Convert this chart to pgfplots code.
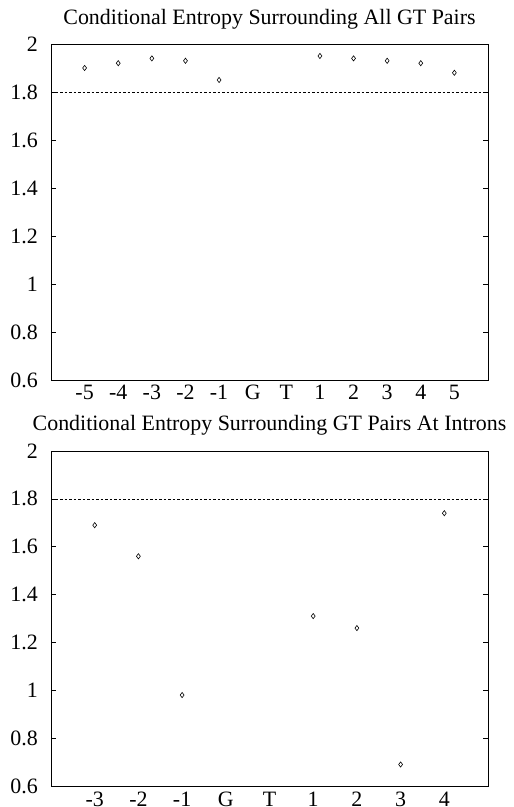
\documentclass[border=0pt]{standalone}
\usepackage{fontspec}
\setmainfont{Liberation Serif}
\usepackage{pgfplots}
\pgfplotsset{compat=1.18}
\begin{document}
\fontsize{22}{25}\selectfont
\begin{tikzpicture}
\useasboundingbox (0,0) rectangle (514bp,807bp);
\pgfplotsset{
  gtstyle/.style={
    scale only axis,
    width=437bp,
    ymin=0.6, ymax=2,
    ytick={0.6,0.8,1,1.2,1.4,1.6,1.8,2},
    yticklabels={0.6,0.8,1,1.2,1.4,1.6,1.8,2},
    xtick=data,
    tick align=inside,
    ytick pos=both,
    major tick length=5bp,
    x tick style={draw=none},
    y tick style={black, line width=0.6bp},
    axis line style={black, line width=0.8bp},
    yticklabel style={anchor=east, inner sep=0pt, xshift=-13bp},
    xticklabel style={anchor=base, inner sep=0pt, yshift=-20bp},
    /pgf/number format/assume math mode=true,
    every axis plot/.append style={black},
  },
  markstyle/.style={only marks, mark=diamond, mark size=2.6bp, mark options={line width=0.6bp, fill=none}},
}
\begin{axis}[gtstyle,
  at={(51bp,427bp)}, anchor=south west,
  height=336bp,
  xmin=-1, xmax=12,
  xtick={0,1,2,3,4,5,6,7,8,9,10,11},
  xticklabels={-5,-4,-3,-2,-1,G,T,1,2,3,4,5},
  title={Conditional Entropy Surrounding All GT Pairs},
  title style={at={(0.5,1)}, anchor=base, inner sep=0pt, yshift=14bp},
]
\addplot[markstyle] coordinates {
(0,1.90) (1,1.92) (2,1.94) (3,1.93) (4,1.85)
(7,1.95) (8,1.94) (9,1.93) (10,1.92) (11,1.88)
};
\addplot[black, line width=0.6bp, dash pattern=on 2.5bp off 2bp] coordinates {(-1,1.8) (12,1.8)};
\end{axis}
\begin{axis}[gtstyle,
  at={(51bp,21bp)}, anchor=south west,
  height=335bp,
  xmin=-1, xmax=9,
  xtick={0,1,2,3,4,5,6,7,8},
  xticklabels={-3,-2,-1,G,T,1,2,3,4},
  title={Conditional Entropy Surrounding GT Pairs At Introns},
  title style={at={(0.5,1)}, anchor=base, inner sep=0pt, yshift=15bp},
]
\addplot[markstyle] coordinates {
(0,1.69) (1,1.56) (2,0.98) (5,1.31) (6,1.26) (7,0.69) (8,1.74)
};
\addplot[black, line width=0.6bp, dash pattern=on 2.5bp off 2bp] coordinates {(-1,1.8) (9,1.8)};
\end{axis}
\end{tikzpicture}
\end{document}
